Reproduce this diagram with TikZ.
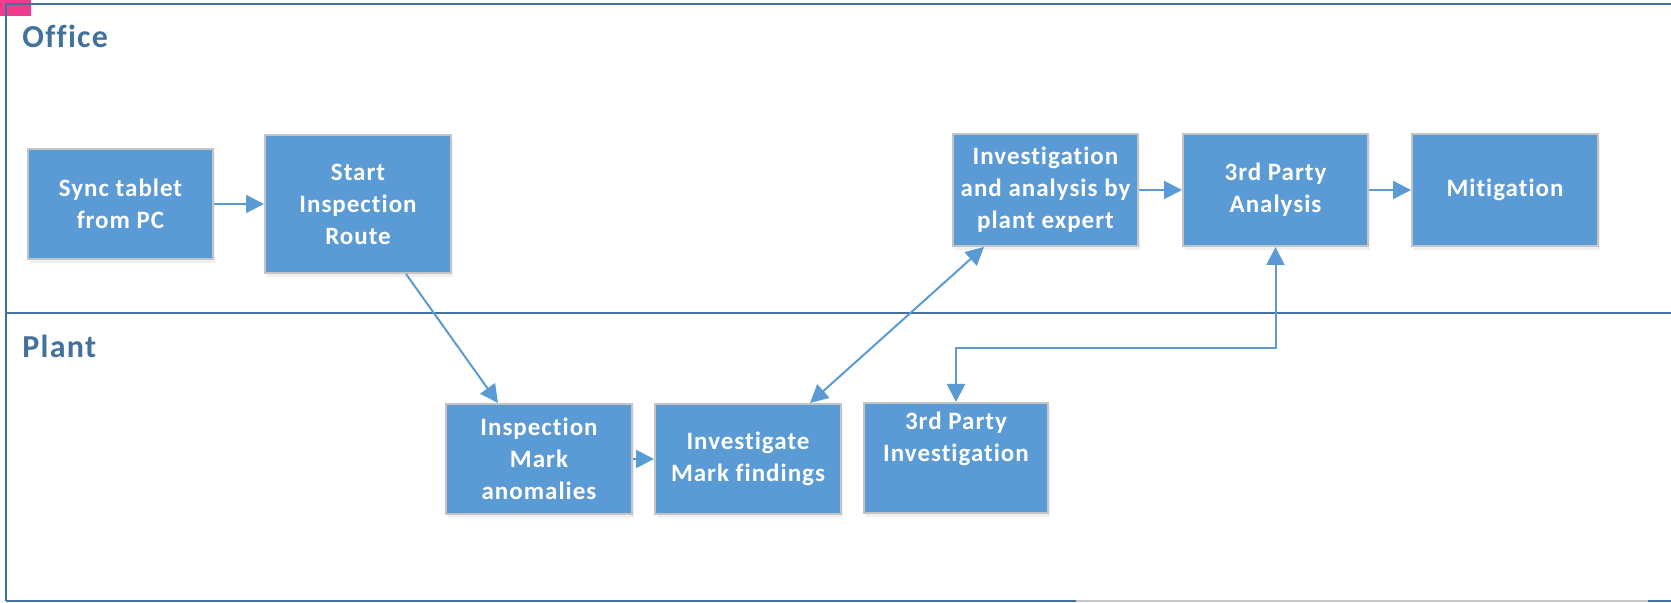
\documentclass[tikz,border=0pt]{standalone}
\usepackage{fontspec}
\setmainfont{Carlito}
\newfontfamily\boxfont[LetterSpace=4,Ligatures=NoCommon]{Carlito}
\usetikzlibrary{arrows.meta,calc,shadows}
\definecolor{boxblue}{HTML}{5B9BD5}
\definecolor{boxedge}{HTML}{C4C4C4}
\definecolor{lane}{HTML}{41719C}
\definecolor{pinkish}{HTML}{F03C8C}
\definecolor{greyline}{HTML}{C8C8C8}
\tikzset{
  proc/.style={draw=boxedge, line width=1pt, fill=boxblue, text=white,
    font=\boxfont\fontsize{12.5}{16}\selectfont\bfseries, align=center, inner sep=0pt,
    drop shadow={opacity=0.12, shadow xshift=1pt, shadow yshift=-2pt}},
  flow/.style={draw=boxblue, line width=1pt, -{Triangle[length=9pt,width=9pt]}},
  both/.style={draw=boxblue, line width=1pt, {Triangle[length=9pt,width=9pt]}-{Triangle[length=9pt,width=9pt]}},
  laneline/.style={draw=lane, line width=1.2pt},
  lanelabel/.style={text=lane, font=\boxfont\fontsize{16}{19}\selectfont\bfseries, anchor=base west, inner sep=0pt}
}
\begin{document}
\begin{tikzpicture}[x=0.5pt,y=-0.5pt]
\useasboundingbox (0,0) rectangle (1671,603);
% corner mark
\fill[pinkish] (0,0) rectangle (31,16);
% lanes
\coordinate (tl) at (6,4);
\coordinate (tr) at (1671,4);
\coordinate (ml) at (6,313);
\coordinate (mr) at (1671,313);
\coordinate (bl) at (6,601);
\coordinate (b1) at (1076,601);
\coordinate (b2) at (1648,601);
\coordinate (br) at (1671,601);
\draw[laneline] (tl) -- (tr);
\draw[laneline] (tl) -- (bl);
\draw[laneline] (ml) -- (mr);
\draw[laneline] (bl) -- (b1);
\draw[draw=greyline, line width=1.2pt] (b1) -- (b2);
\draw[laneline] (b2) -- (br);
\node[lanelabel] (office) at (22,48) {Office};
\node[lanelabel] (plant) at (22,358) {Plant};
% boxes
\node[proc, minimum width=92.5pt, minimum height=55pt] (sync) at (120.5,204) {Sync tablet\\from PC};
\node[proc, minimum width=93pt, minimum height=69pt] (start) at (358,204) {Start\\Inspection\\Route};
\node[proc, minimum width=93pt, minimum height=55pt] (insp) at (539,459) {Inspection\\Mark\\anomalies};
\node[proc, minimum width=93pt, minimum height=55pt] (invest) at (748,459) {Investigate\\Mark findings};
\node[proc, minimum width=92.5pt, minimum height=56pt] (ana) at (1045.5,190) {Investigation\\and analysis by\\plant expert};
\node[proc, minimum width=92.5pt, minimum height=56pt] (tpa) at (1275.5,190) {3rd Party\\Analysis};
\node[proc, minimum width=93pt, minimum height=56pt] (mit) at (1505,190) {Mitigation};
\node[proc, minimum width=92pt, minimum height=55pt] (tpi) at (956,458) {3rd Party\\Investigation\\\strut};
% connectors
\draw[flow] (sync.east) -- (sync.east -| start.west);
\draw[flow] ($(start.south)+(48,0)$) -- ($(insp.north)+(-41,0)$);
\draw[flow] (insp.east) -- (insp.east -| invest.west);
\draw[both] ($(invest.north)+(62,0)$) -- ($(ana.south)+(-61.5,0)$);
\draw[flow] (ana.east) -- (ana.east -| tpa.west);
\draw[flow] (tpa.east) -- (tpa.east -| mit.west);
\coordinate (elb) at (1100,348);
\draw[both] (tpa.south) -- (tpa.south |- elb) -| (tpi.north);
\end{tikzpicture}
\end{document}
